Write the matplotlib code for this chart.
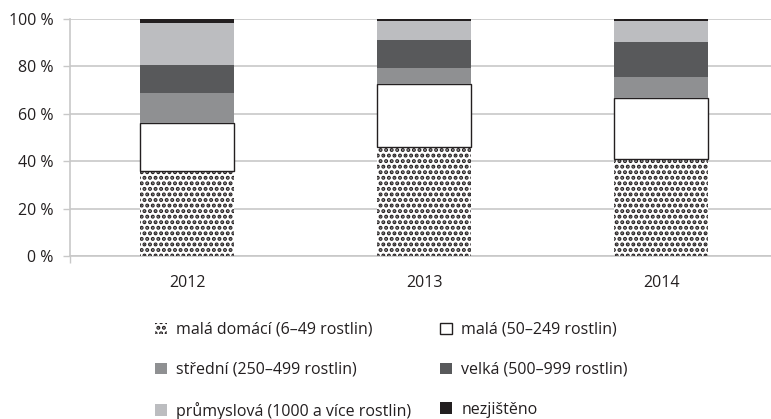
import matplotlib
matplotlib.use("Agg")
import matplotlib.pyplot as plt
import numpy as np

plt.rcParams['font.family'] = ['Open Sans', 'DejaVu Sans']
plt.rcParams['hatch.color'] = '#231f20'
plt.rcParams['hatch.linewidth'] = 2.0

years = ['2012', '2013', '2014']
labels = ['malá domácí (6–49 rostlin)', 'malá (50–249 rostlin)',
          'střední (250–499 rostlin)', 'velká (500–999 rostlin)',
          'průmyslová (1000 a více rostlin)', 'nezjištěno']
mala_domaci = [35.7, 46.0, 41.0]
mala = [20.6, 26.7, 25.8]
stredni = [12.6, 6.7, 8.8]
velka = [11.8, 11.8, 14.7]
prumyslova = [17.8, 8.1, 9.0]
nezjisteno = [1.5, 0.7, 0.7]

series = [mala_domaci, mala, stredni, velka, prumyslova, nezjisteno]
colors = ['white', 'white', '#8f9092', '#58595b', '#bcbdc0', '#231f20']
txt = '#231f20'
grid = '#c8c8c8'

fig = plt.figure(figsize=(7.71, 4.19), dpi=100)
ax = fig.add_axes([70 / 771, 1 - 256 / 419, 701 / 771, 237 / 419])

x = np.arange(len(years))
w = 0.40
bottom = np.zeros(len(years))
handles = []
for i, (vals, col, lab) in enumerate(zip(series, colors, labels)):
    if i == 0:
        b = ax.bar(x, vals, w, bottom=bottom, color='white', hatch='...',
                   edgecolor='#231f20', linewidth=0, label=lab, zorder=3)
    elif i == 1:
        b = ax.bar(x, vals, w, bottom=bottom, color='white',
                   edgecolor='#231f20', linewidth=1.0, label=lab, zorder=3)
    else:
        b = ax.bar(x, vals, w, bottom=bottom, color=col, linewidth=0,
                   label=lab, zorder=3)
    handles.append(b)
    bottom += np.array(vals)

ax.set_xlim(-0.494, 2.464)
ax.set_ylim(0, 100)
ax.set_yticks(range(0, 101, 20))
ax.set_yticklabels([f'{v} %' for v in range(0, 101, 20)])
ax.set_xticks(x)
ax.set_xticklabels(years)
ax.set_xticks([-0.494], minor=True)
ax.tick_params(axis='x', which='major', length=0, pad=14, labelsize=11.5, labelcolor=txt)
ax.tick_params(axis='x', which='minor', length=5, color=grid, width=1)
ax.tick_params(axis='y', length=5, color=grid, width=1, pad=7, labelsize=11.5, labelcolor=txt)
ax.yaxis.grid(True, color=grid, linewidth=1.2, zorder=0)
ax.set_axisbelow(True)
for s in ['top', 'right']:
    ax.spines[s].set_visible(False)
for s in ['left', 'bottom']:
    ax.spines[s].set_color(grid)
    ax.spines[s].set_linewidth(1.2)

order = [0, 2, 4, 1, 3, 5]
leg = fig.legend([handles[k] for k in order], [labels[k] for k in order],
                 ncol=2, loc='upper left', bbox_to_anchor=(147 / 771, 1 - 314 / 419),
                 frameon=False, fontsize=11.5, labelcolor=txt,
                 handlelength=0.75, handleheight=0.75, handletextpad=0.55,
                 labelspacing=1.5, columnspacing=1.85, borderpad=0)

fig.savefig('out.png', dpi=100)
